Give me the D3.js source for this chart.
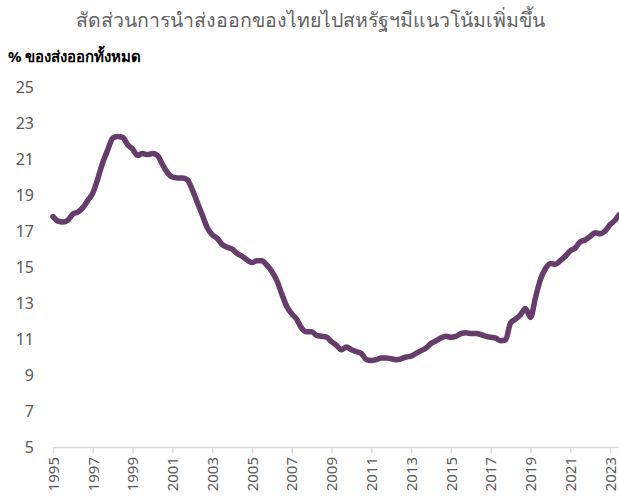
<!DOCTYPE html>
<html>
<head>
<meta charset="utf-8">
<script src="https://cdn.jsdelivr.net/npm/d3@7"></script>
<style>
  body { margin: 0; background: #fff; }
  text { font-family: "Noto Sans", "DejaVu Sans", sans-serif; }
</style>
</head>
<body>
<div id="chart"></div>
<script>
// data: share of Thai exports going to the US, quarterly (% of total exports)
const years = [
  1995.00, 1995.25, 1995.50, 1995.75, 1996.00, 1996.25, 1996.50, 1996.75,
  1997.00, 1997.25, 1997.50, 1997.75, 1998.00, 1998.25, 1998.50, 1998.75,
  1999.00, 1999.25, 1999.50, 1999.75, 2000.00, 2000.25, 2000.50, 2000.75,
  2001.00, 2001.25, 2001.50, 2001.75, 2002.00, 2002.25, 2002.50, 2002.75,
  2003.00, 2003.25, 2003.50, 2003.75, 2004.00, 2004.25, 2004.50, 2004.75,
  2005.00, 2005.25, 2005.50, 2005.75, 2006.00, 2006.25, 2006.50, 2006.75,
  2007.00, 2007.25, 2007.50, 2007.75, 2008.00, 2008.25, 2008.50, 2008.75,
  2009.00, 2009.25, 2009.50, 2009.75, 2010.00, 2010.25, 2010.50, 2010.75,
  2011.00, 2011.25, 2011.50, 2011.75, 2012.00, 2012.25, 2012.50, 2012.75,
  2013.00, 2013.25, 2013.50, 2013.75, 2014.00, 2014.25, 2014.50, 2014.75,
  2015.00, 2015.25, 2015.50, 2015.75, 2016.00, 2016.25, 2016.50, 2016.75,
  2017.00, 2017.25, 2017.50, 2017.75, 2018.00, 2018.25, 2018.50, 2018.75,
  2019.00, 2019.25, 2019.50, 2019.75, 2020.00, 2020.25, 2020.50, 2020.75,
  2021.00, 2021.25, 2021.50, 2021.75, 2022.00, 2022.25, 2022.50, 2022.75,
  2023.00, 2023.25, 2023.45
];
const share = [
  17.8, 17.55, 17.5, 17.6, 17.95, 18.05, 18.3, 18.7,
  19.1, 19.9, 20.8, 21.5, 22.15, 22.25, 22.2, 21.8,
  21.55, 21.2, 21.3, 21.25, 21.3, 21.2, 20.7, 20.25,
  20.0, 19.95, 19.95, 19.85, 19.3, 18.6, 17.9, 17.2,
  16.8, 16.6, 16.25, 16.1, 16.0, 15.75, 15.6, 15.4,
  15.25, 15.35, 15.35, 15.1, 14.75, 14.25, 13.5, 12.8,
  12.4, 12.1, 11.6, 11.4, 11.4, 11.2, 11.15, 11.1,
  10.85, 10.65, 10.4, 10.55, 10.4, 10.3, 10.2, 9.85,
  9.8, 9.85, 9.95, 9.95, 9.9, 9.85, 9.9, 10.0,
  10.05, 10.2, 10.35, 10.5, 10.75, 10.9, 11.05, 11.15,
  11.1, 11.15, 11.3, 11.35, 11.3, 11.3, 11.25, 11.15,
  11.1, 11.05, 10.9, 10.95, 11.9, 12.1, 12.35, 12.7,
  12.2, 13.3, 14.3, 14.9, 15.2, 15.15, 15.35, 15.6,
  15.9, 16.05, 16.4, 16.5, 16.7, 16.9, 16.85, 17.0,
  17.35, 17.6, 17.9
];
const yTicks = [5, 7, 9, 11, 13, 15, 17, 19, 21, 23, 25];
const xTicks = d3.range(1995, 2024, 2);
const title = 'สัดส่วนการนำส่งออกของไทยไปสหรัฐฯมีแนวโน้มเพิ่มขึ้น';
const yTitle = '% ของส่งออกทั้งหมด';

// =============================================
const canvas_w = 619;
const canvas_h = 503;
const margin = { top: 87, right: 0, bottom: 56, left: 53 };

const svg = d3.select('#chart')
              .append('svg')
              .attr('width', canvas_w)
              .attr('height', canvas_h);

const x = d3.scaleLinear()
            .domain([1995, years[years.length - 1]])
            .range([margin.left, canvas_w - margin.right]);

const y = d3.scaleLinear()
            .domain([5, 25])
            .range([canvas_h - margin.bottom, margin.top]);

// title
svg.append('text')
   .attr('x', 310)
   .attr('y', 27)
   .attr('text-anchor', 'middle')
   .attr('fill', '#636363')
   .style('font-size', '19.5px')
   .style('font-weight', 300)
   .text(title);

svg.append('text')
   .attr('x', 8)
   .attr('y', 62)
   .attr('fill', '#000')
   .style('font-size', '15px')
   .style('font-weight', 'bold')
   .text(yTitle);

// y axis (labels only)
const yAxis = svg.append('g')
   .attr('transform', 'translate(34,0)')
   .call(d3.axisLeft(y).tickValues(yTicks).tickSize(0).tickPadding(0));
yAxis.select('.domain').remove();
yAxis.selectAll('text')
     .attr('fill', '#595959')
     .style('font-size', '16px');

// x axis
const xAxis = svg.append('g')
   .attr('transform', 'translate(0,' + y(5) + ')')
   .call(d3.axisBottom(x).tickValues(xTicks).tickFormat(d3.format('d')).tickSize(6).tickSizeOuter(0));
xAxis.select('.domain').attr('stroke', '#d9d9d9').attr('stroke-width', 1.5);
xAxis.selectAll('.tick line').attr('stroke', '#d9d9d9').attr('stroke-width', 1.5);
xAxis.selectAll('text')
     .attr('fill', '#595959')
     .style('font-size', '15px')
     .attr('text-anchor', 'end')
     .attr('transform', 'rotate(-90)')
     .attr('x', -10)
     .attr('y', 0)
     .attr('dy', '0.35em');

// line
const line = d3.line()
               .x((d, i) => x(years[i]))
               .y(d => y(d))
               .curve(d3.curveMonotoneX);

svg.append('path')
   .datum(share)
   .attr('d', line)
   .attr('fill', 'none')
   .attr('stroke', '#653c6a')
   .attr('stroke-width', 5.5)
   .attr('stroke-linejoin', 'round')
   .attr('stroke-linecap', 'round');
</script>
</body>
</html>
